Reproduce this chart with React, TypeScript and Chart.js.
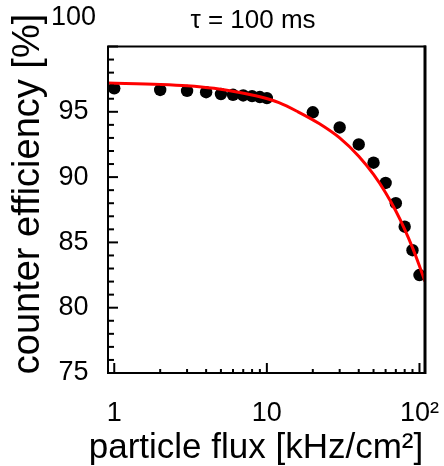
import React, { useEffect, useRef } from 'react';
import { Chart, registerables } from 'chart.js';

Chart.register(...registerables);

// ---- texts ----
const TITLE = 'τ = 100 ms';
const X_TITLE = 'particle flux [kHz/cm²]';
const Y_TITLE = 'counter efficiency [%]';

// ---- measured points ----
const fluxPoints = [1, 2, 3, 4, 5, 6, 7, 8, 9, 10, 20, 30, 40, 50, 60, 70, 80, 90, 100];
const efficiencyPoints = [96.8, 96.67, 96.6, 96.5, 96.36, 96.3, 96.25, 96.2, 96.13, 96.05, 94.96, 93.8, 92.5, 91.1, 89.55, 88.0, 86.2, 84.4, 82.5];

// ---- fitted curve ----
const fitFlux = [0.91, 2, 3, 4.5, 6.5, 9, 12, 16, 22, 30, 40, 50, 60, 70, 80, 90, 100, 108.7];
const fitEfficiency = [97.2, 97.1, 97.0, 96.8, 96.5, 96.15, 95.7, 95.0, 94.1, 93.0, 91.6, 90.2, 88.8, 87.4, 86.0, 84.6, 83.2, 82.0];

// ---- axes ----
const xMin = 0.91;
const xMax = 108.7;
const xMajorTicks = [1, 10, 100];
const xMajorLabels = ['1', '10', '10²'];
const xMinorTicks = [2, 3, 4, 5, 6, 7, 8, 9, 20, 30, 40, 50, 60, 70, 80, 90];
const yMin = 75;
const yMax = 100;
const yMajorStep = 5;
const yMinorStep = 1;

const FONT = "'Liberation Sans', Arial, Helvetica, sans-serif";

const zeroPadding = (scale: any) => {
  scale.paddingLeft = 0;
  scale.paddingRight = 0;
  scale.paddingTop = 0;
  scale.paddingBottom = 0;
};

const decorPlugin = {
  id: 'decor',
  afterDraw(chart: any) {
    const { ctx, chartArea } = chart;
    const { left, right, top, bottom } = chartArea;
    const xs = chart.scales.x;
    const ys = chart.scales.y;
    ctx.save();
    ctx.strokeStyle = '#000';
    ctx.lineWidth = 2;
    // y ticks (inward)
    ys.ticks.forEach((t: any) => {
      const py = ys.getPixelForValue(t.value);
      const len = t.value % yMajorStep === 0 ? 10 : 6;
      ctx.beginPath();
      ctx.moveTo(left, py);
      ctx.lineTo(left + len, py);
      ctx.stroke();
    });
    // x ticks (inward)
    xMajorTicks.concat(xMinorTicks).forEach((v) => {
      const px = xs.getPixelForValue(v);
      const len = xMajorTicks.includes(v) ? 10 : 4;
      ctx.beginPath();
      ctx.moveTo(px, bottom);
      ctx.lineTo(px, bottom - len);
      ctx.stroke();
    });
    // frame
    ctx.strokeRect(left, top, right - left, bottom - top);
    ctx.lineWidth = 3;
    ctx.beginPath();
    ctx.moveTo(right, top - 1);
    ctx.lineTo(right, bottom + 1);
    ctx.stroke();

    // titles
    ctx.fillStyle = '#000';
    ctx.textAlign = 'center';
    ctx.textBaseline = 'middle';
    ctx.font = `26px ${FONT}`;
    ctx.fillText(TITLE, 253, 21);

    ctx.textBaseline = 'alphabetic';
    ctx.font = `35px ${FONT}`;
    ctx.fillText(X_TITLE, 256, 458);

    ctx.translate(38.5, 194);
    ctx.rotate(-Math.PI / 2);
    ctx.font = `38px ${FONT}`;
    ctx.fillText(Y_TITLE, 0, 0);
    ctx.restore();
  },
};

export default function App() {
  const ref = useRef<HTMLCanvasElement>(null);

  useEffect(() => {
    if (!ref.current) return;
    const chart = new Chart(ref.current, {
      type: 'scatter',
      data: {
        datasets: [
          {
            type: 'line',
            label: 'fit',
            data: fitFlux.map((x, i) => ({ x, y: fitEfficiency[i] })),
            borderColor: '#ff0000',
            borderWidth: 3,
            pointRadius: 0,
            fill: false,
            cubicInterpolationMode: 'monotone',
          } as any,
          {
            type: 'scatter',
            label: 'data',
            data: fluxPoints.map((x, i) => ({ x, y: efficiencyPoints[i] })),
            backgroundColor: '#000',
            borderColor: '#000',
            borderWidth: 0,
            pointRadius: 6.2,
          },
        ],
      },
      options: {
        responsive: false,
        animation: false,
        devicePixelRatio: 1,
        layout: { autoPadding: false, padding: { top: 46.5, right: 19, left: 0, bottom: 0 } },
        plugins: {
          legend: { display: false },
          tooltip: { enabled: false },
          title: { display: false },
        },
        scales: {
          x: {
            type: 'logarithmic',
            min: xMin,
            max: xMax,
            grid: { display: false, drawTicks: false },
            border: { display: false },
            afterBuildTicks: (scale: any) => {
              scale.ticks = xMajorTicks.concat(xMinorTicks).sort((a, b) => a - b).map((v) => ({ value: v }));
            },
            afterFit: (scale: any) => {
              scale.height = 93;
              zeroPadding(scale);
            },
            ticks: {
              autoSkip: false,
              maxRotation: 0,
              minRotation: 0,
              padding: 24,
              color: '#000',
              font: { family: FONT, size: 27, lineHeight: 1.2 },
              callback: (value: any) => {
                const idx = xMajorTicks.indexOf(Number(value));
                return idx >= 0 ? xMajorLabels[idx] : '';
              },
            },
          },
          y: {
            type: 'linear',
            min: yMin,
            max: yMax,
            grid: { display: false, drawTicks: false },
            border: { display: false },
            afterFit: (scale: any) => {
              scale.width = 108;
              zeroPadding(scale);
            },
            ticks: {
              stepSize: yMinorStep,
              autoSkip: false,
              padding: 12,
              color: '#000',
              font: { family: FONT, size: 27, lineHeight: 1.08 },
              callback: (value: any) => {
                const v = Number(value);
                if (v % yMajorStep !== 0) return '';
                return v === yMax ? [String(v), '', ''] : String(v) + ' ';
              },
            },
          },
        },
      },
      plugins: [decorPlugin],
    });
    return () => chart.destroy();
  }, []);

  return (
    <div style={{ position: 'absolute', left: 0, top: 0, width: 444, height: 466 }}>
      <canvas ref={ref} width={444} height={466} style={{ display: 'block', width: 444, height: 466 }} />
    </div>
  );
}
